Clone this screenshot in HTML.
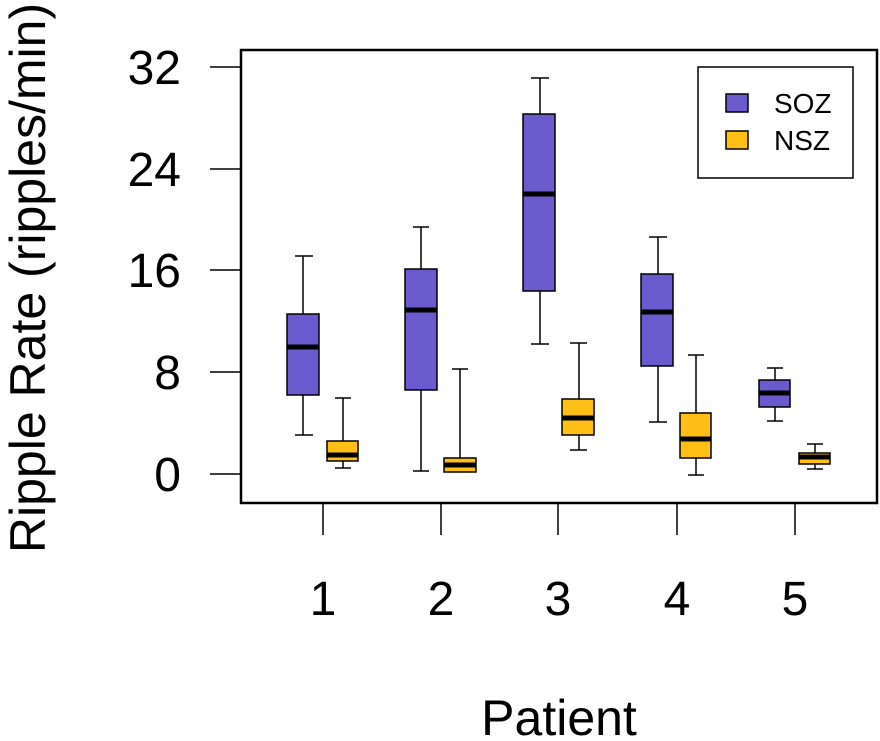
<!DOCTYPE html>
<html><head><meta charset="utf-8"><style>
html,body{margin:0;padding:0;background:#fff;}
svg text{font-family:"Liberation Sans",Arial,sans-serif;fill:#000;}
</style></head><body>
<svg width="880" height="736" viewBox="0 0 880 736" xmlns="http://www.w3.org/2000/svg">
<rect x="241" y="50" width="636" height="453" fill="none" stroke="#000" stroke-width="2.5"/>
<g stroke="#000" stroke-width="1.5">
<line x1="210" y1="67" x2="241" y2="67"/>
<line x1="210" y1="169" x2="241" y2="169"/>
<line x1="210" y1="270" x2="241" y2="270"/>
<line x1="210" y1="372" x2="241" y2="372"/>
<line x1="210" y1="474" x2="241" y2="474"/>
<line x1="323" y1="503" x2="323" y2="535"/>
<line x1="441" y1="503" x2="441" y2="535"/>
<line x1="558" y1="503" x2="558" y2="535"/>
<line x1="677" y1="503" x2="677" y2="535"/>
<line x1="795" y1="503" x2="795" y2="535"/>
</g>
<g font-size="48" text-anchor="end">
<text x="181" y="84">32</text>
<text x="181" y="186">24</text>
<text x="181" y="287">16</text>
<text x="181" y="389">8</text>
<text x="181" y="491">0</text>
</g>
<g font-size="48" text-anchor="middle">
<text x="323" y="615">1</text>
<text x="441" y="615">2</text>
<text x="558" y="615">3</text>
<text x="677" y="615">4</text>
<text x="795" y="615">5</text>
<text x="559" y="735" font-size="50">Patient</text>
<text transform="translate(45,278) rotate(-90)" font-size="50">Ripple Rate (ripples/min)</text>
</g>
<g stroke="#000" stroke-width="1.5">
<line x1="303" y1="256" x2="303" y2="314"/><line x1="303" y1="395" x2="303" y2="435"/>
<line x1="295" y1="256" x2="313" y2="256"/><line x1="295" y1="435" x2="313" y2="435"/>
<rect x="287" y="314" width="32" height="81" fill="#6A5ACD"/>
<line x1="287" y1="347" x2="319" y2="347" stroke-width="5"/>
<line x1="343" y1="398" x2="343" y2="441"/><line x1="343" y1="461" x2="343" y2="468"/>
<line x1="335" y1="398" x2="351" y2="398"/><line x1="335" y1="468" x2="351" y2="468"/>
<rect x="327" y="441" width="31" height="20" fill="#FFBF14"/>
<line x1="327" y1="455" x2="358" y2="455" stroke-width="5"/>
<line x1="421" y1="227" x2="421" y2="269"/><line x1="421" y1="390" x2="421" y2="471"/>
<line x1="413" y1="227" x2="429" y2="227"/><line x1="413" y1="471" x2="429" y2="471"/>
<rect x="405" y="269" width="32" height="121" fill="#6A5ACD"/>
<line x1="405" y1="310" x2="437" y2="310" stroke-width="5"/>
<line x1="460" y1="369" x2="460" y2="458"/>
<line x1="452" y1="369" x2="468" y2="369"/>
<rect x="444" y="458" width="32" height="14" fill="#FFBF14"/>
<line x1="444" y1="465" x2="476" y2="465" stroke-width="5"/>
<line x1="540" y1="78" x2="540" y2="114"/><line x1="540" y1="291" x2="540" y2="344"/>
<line x1="531" y1="78" x2="549" y2="78"/><line x1="531" y1="344" x2="549" y2="344"/>
<rect x="523" y="114" width="32" height="177" fill="#6A5ACD"/>
<line x1="523" y1="194" x2="555" y2="194" stroke-width="5"/>
<line x1="579" y1="343" x2="579" y2="399"/><line x1="579" y1="435" x2="579" y2="450"/>
<line x1="570" y1="343" x2="587" y2="343"/><line x1="570" y1="450" x2="587" y2="450"/>
<rect x="562" y="399" width="32" height="36" fill="#FFBF14"/>
<line x1="562" y1="418" x2="594" y2="418" stroke-width="5"/>
<line x1="658" y1="237" x2="658" y2="274"/><line x1="658" y1="366" x2="658" y2="422"/>
<line x1="649" y1="237" x2="667" y2="237"/><line x1="649" y1="422" x2="667" y2="422"/>
<rect x="641" y="274" width="32" height="92" fill="#6A5ACD"/>
<line x1="641" y1="312" x2="673" y2="312" stroke-width="5"/>
<line x1="696" y1="355" x2="696" y2="413"/><line x1="696" y1="458" x2="696" y2="475"/>
<line x1="688" y1="355" x2="704" y2="355"/><line x1="688" y1="475" x2="704" y2="475"/>
<rect x="680" y="413" width="31" height="45" fill="#FFBF14"/>
<line x1="680" y1="439" x2="711" y2="439" stroke-width="5"/>
<line x1="775" y1="368" x2="775" y2="380"/><line x1="775" y1="407" x2="775" y2="421"/>
<line x1="767" y1="368" x2="783" y2="368"/><line x1="767" y1="421" x2="783" y2="421"/>
<rect x="759" y="380" width="31" height="27" fill="#6A5ACD"/>
<line x1="759" y1="393" x2="790" y2="393" stroke-width="5"/>
<line x1="815" y1="444" x2="815" y2="453"/><line x1="815" y1="464" x2="815" y2="469"/>
<line x1="807" y1="444" x2="823" y2="444"/><line x1="807" y1="469" x2="823" y2="469"/>
<rect x="799" y="453" width="31" height="11" fill="#FFBF14"/>
<line x1="799" y1="457" x2="830" y2="457" stroke-width="5"/>
</g>
<rect x="698" y="67" width="155" height="111" fill="#fff" stroke="#000" stroke-width="1.5"/>
<rect x="726" y="94" width="22" height="18" fill="#6A5ACD" stroke="#000" stroke-width="1.5"/>
<rect x="726" y="131" width="22" height="18" fill="#FFBF14" stroke="#000" stroke-width="1.5"/>
<text x="774" y="113" font-size="28">SOZ</text>
<text x="774" y="150" font-size="28">NSZ</text>
</svg>
</body></html>
